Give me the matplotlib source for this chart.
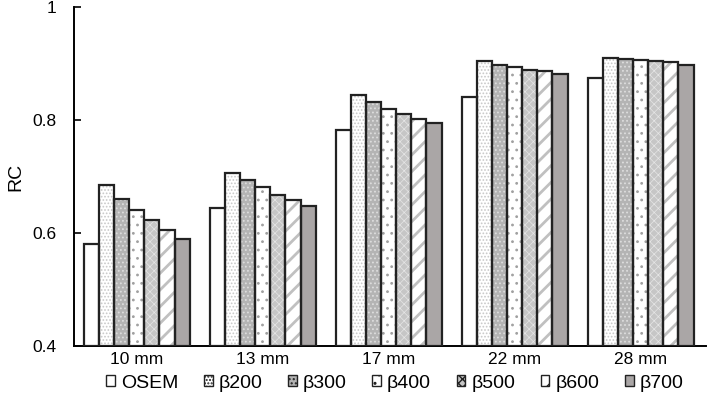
import numpy as np
import matplotlib
matplotlib.use('Agg')
from matplotlib import pyplot as plt
from matplotlib.patches import Patch

plt.rcParams['font.family'] = ['Liberation Sans', 'DejaVu Sans']

groups = ['10 mm', '13 mm', '17 mm', '22 mm', '28 mm']
series = ['OSEM', 'β200', 'β300', 'β400', 'β500', 'β600', 'β700']
osem = [0.580, 0.645, 0.783, 0.840, 0.875]
b200 = [0.685, 0.707, 0.844, 0.904, 0.910]
b300 = [0.660, 0.693, 0.832, 0.897, 0.908]
b400 = [0.641, 0.681, 0.820, 0.893, 0.906]
b500 = [0.623, 0.668, 0.811, 0.889, 0.904]
b600 = [0.605, 0.658, 0.802, 0.886, 0.902]
b700 = [0.589, 0.647, 0.794, 0.881, 0.898]
values = [osem, b200, b300, b400, b500, b600, b700]

# face, hatch, hatch colour, hatch linewidth
styles = [
    ('white', None, 'white', 0.8),
    ('white', '.....', '#c8c8c8', 0.8),
    ('#b4b4b4', '....', '#dddddd', 0.8),
    ('white', '..', '#a0a0a0', 0.8),
    ('#c6c6c6', 'xxxx', '#e6e6e6', 0.5),
    ('white', '//', '#c0c0c0', 2.0),
    ('#aaa6a6', None, '#aaa6a6', 0.8),
]

fig, ax = plt.subplots(figsize=(7.09, 4.03), dpi=100)
fig.subplots_adjust(left=0.104, right=0.996, bottom=0.141, top=0.983)

x = np.arange(len(groups))
w = 0.12
handles = []
for i, (name, vals) in enumerate(zip(series, values)):
    face, hatch, hc, hlw = styles[i]
    pos = x + (i - 3) * w
    with plt.rc_context({'hatch.linewidth': hlw}):
        ax.bar(pos, np.array(vals) - 0.4, w, bottom=0.4, color=face, hatch=hatch,
               edgecolor=hc, linewidth=0, zorder=2)
        handles.append(Patch(facecolor=face, hatch=hatch, edgecolor='#222222',
                             linewidth=1.0, label=name))
    ax.bar(pos, np.array(vals) - 0.4, w, bottom=0.4, fill=False,
           edgecolor='#222222', linewidth=1.6, zorder=3)

ax.set_ylim(0.4, 1.0)
ax.set_xlim(-0.5, 4.52)
ax.set_yticks([0.4, 0.6, 0.8, 1.0])
ax.set_yticklabels(['0.4', '0.6', '0.8', '1'])
ax.set_xticks(x)
ax.set_xticklabels(groups)
ax.tick_params(axis='y', direction='in', length=5, width=1.2, labelsize=12.5, pad=12.5)
ax.tick_params(axis='x', length=0, labelsize=12.5, pad=4)
ax.set_ylabel('RC', fontsize=14, labelpad=6)
for s in ['top', 'right']:
    ax.spines[s].set_visible(False)
for s in ['left', 'bottom']:
    ax.spines[s].set_linewidth(1.4)

leg = fig.legend(handles=handles, loc='lower center', ncol=7, frameon=False,
                 bbox_to_anchor=(0.557, -0.015), fontsize=14, handlelength=0.45,
                 handleheight=0.45, handletextpad=0.3, columnspacing=1.32)

plt.savefig('out.png', dpi=100)
